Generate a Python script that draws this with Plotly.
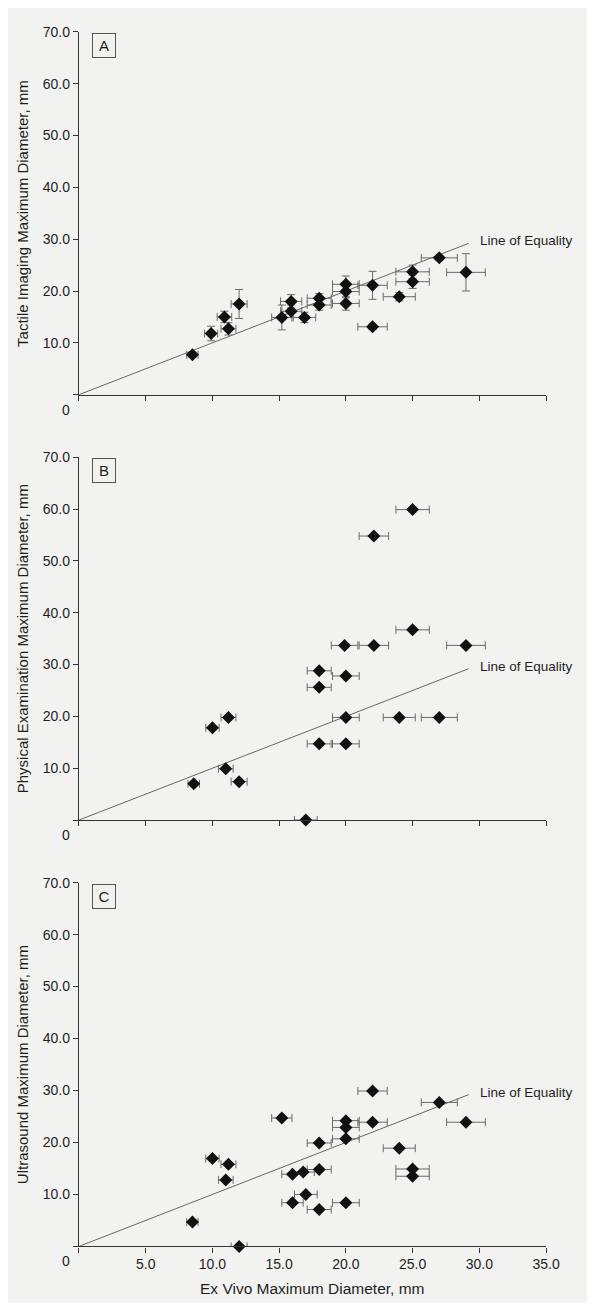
import plotly.graph_objects as go

# ---------------- data ----------------
# Panel A: tactile imaging vs ex vivo
A_x = [8.5, 9.9, 10.9, 11.2, 12.0, 15.2, 15.9, 15.9, 16.9, 18.0, 18.0, 20.0, 20.0, 20.0, 22.0, 22.0, 24.0, 25.0, 25.0, 27.0, 29.0]
A_y = [7.7, 11.8, 15.0, 12.7, 17.5, 14.9, 18.0, 16.1, 14.9, 18.6, 17.3, 21.3, 19.9, 17.6, 21.1, 13.1, 18.9, 23.7, 21.8, 26.4, 23.6]
A_yerr = [0.5, 1.4, 1.1, 1.2, 2.8, 2.4, 1.3, 1.2, 1.0, 0.9, 1.0, 1.6, 1.2, 1.3, 2.7, 0.5, 0.8, 1.3, 1.3, 0.5, 3.6]

# Panel B: physical examination vs ex vivo
B_x = [8.6, 10.0, 11.2, 11.0, 12.0, 17.0, 18.0, 18.0, 18.0, 19.9, 20.0, 20.0, 20.0, 22.1, 22.1, 24.0, 25.0, 25.0, 27.0, 29.0]
B_y = [7.0, 17.8, 19.8, 9.9, 7.4, 0.0, 28.8, 25.6, 14.7, 33.7, 27.8, 19.8, 14.7, 33.7, 54.8, 19.8, 59.9, 36.7, 19.8, 33.7]

# Panel C: ultrasound vs ex vivo
C_x = [8.5, 10.0, 11.2, 11.0, 12.0, 15.2, 16.0, 16.0, 16.8, 17.0, 18.0, 18.0, 18.0, 20.0, 20.0, 20.0, 20.0, 22.0, 22.0, 24.0, 25.0, 25.0, 27.0, 29.0]
C_y = [4.7, 16.9, 15.8, 12.8, 0.0, 24.7, 13.9, 8.4, 14.3, 10.0, 19.9, 14.8, 7.1, 24.2, 22.9, 20.7, 8.4, 29.9, 23.9, 18.9, 14.9, 13.5, 27.7, 23.9]

x_err_pct = 5
equality = [0.0, 29.2]

y_titles = ["Tactile Imaging Maximum Diameter, mm",
            "Physical Examination Maximum Diameter, mm",
            "Ultrasound Maximum Diameter, mm"]
panel_letters = ["A", "B", "C"]
x_title = "Ex Vivo Maximum Diameter, mm"
y_tickvals = [0, 10, 20, 30, 40, 50, 60, 70]
y_ticktext = ["", "10.0", "20.0", "30.0", "40.0", "50.0", "60.0", "70.0"]
x_tickvals = [0, 5, 10, 15, 20, 25, 30, 35]
x_ticktext = ["", "5.0", "10.0", "15.0", "20.0", "25.0", "30.0", "35.0"]

# ---------------- layout ----------------
W, H = 595, 1303
FONT = "Liberation Sans, Arial, Helvetica, sans-serif"
TXT = "#1f1f1f"
AX = "#333333"
ERR = "#6a6a6a"

panels_px = [(16, 381), (444, 809), (872, 1238)]
x_dom = [72.7 / W, 551 / W]

fig = go.Figure()

datasets = [(A_x, A_y, A_yerr), (B_x, B_y, None), (C_x, C_y, None)]
for i, (xs, ys, yerr) in enumerate(datasets):
    xa = "x" if i == 0 else f"x{i+1}"
    ya = "y" if i == 0 else f"y{i+1}"
    fig.add_trace(go.Scatter(
        x=equality, y=equality, mode="lines",
        line=dict(color="#666666", width=1),
        xaxis=xa, yaxis=ya, showlegend=False, hoverinfo="skip"))
    ey = dict(visible=False)
    if yerr is not None:
        ey = dict(type="data", array=yerr, visible=True, color=ERR, thickness=1, width=4)
    fig.add_trace(go.Scatter(
        x=xs, y=ys, mode="markers",
        marker=dict(symbol="diamond", size=10, color="#111111"),
        error_x=dict(type="percent", value=x_err_pct, visible=True, color=ERR, thickness=1, width=4),
        error_y=ey,
        cliponaxis=False,
        xaxis=xa, yaxis=ya, showlegend=False))

annotations = []
for i, (top, bot) in enumerate(panels_px):
    sfx = "" if i == 0 else str(i + 1)
    dom = [1 - bot / H, 1 - top / H]
    fig.layout[f"yaxis{sfx}"] = dict(
        domain=dom, range=[0, 70], anchor=f"x{sfx}",
        tickvals=y_tickvals, ticktext=y_ticktext,
        ticks="outside", ticklen=5, tickwidth=1, tickcolor=AX,
        showline=True, linecolor=AX, linewidth=1.3,
        showgrid=False, zeroline=False,
        tickfont=dict(family=FONT, size=14, color=TXT))
    fig.layout[f"xaxis{sfx}"] = dict(
        domain=x_dom, range=[0, 35], anchor=f"y{sfx}",
        tickvals=x_tickvals, ticktext=x_ticktext,
        showticklabels=(i == 2),
        ticks="outside", ticklen=5, tickwidth=1, tickcolor=AX,
        showline=True, linecolor=AX, linewidth=1.3,
        showgrid=False, zeroline=False,
        tickfont=dict(family=FONT, size=14, color=TXT))
    # y-axis title
    annotations.append(dict(
        text=y_titles[i], textangle=-90, showarrow=False,
        xref="paper", yref="paper", x=15 / W, y=(dom[0] + dom[1]) / 2,
        xanchor="center", yanchor="middle",
        font=dict(family=FONT, size=15, color=TXT)))
    # origin label
    annotations.append(dict(
        text="0", showarrow=False, xref="paper", yref="paper",
        x=59 / W, y=1 - (bot + 15) / H, xanchor="center", yanchor="middle",
        font=dict(family=FONT, size=14, color=TXT)))
    # panel letter
    annotations.append(dict(
        text=panel_letters[i], showarrow=False,
        xref=f"x{sfx}", yref=f"y{sfx}", x=1.85, y=67.4,
        xanchor="center", yanchor="middle",
        width=20, height=21, borderpad=1,
        bordercolor="#555555", borderwidth=1,
        font=dict(family=FONT, size=15, color=TXT)))
    # line label
    annotations.append(dict(
        text="Line of Equality", showarrow=False,
        xref=f"x{sfx}", yref=f"y{sfx}", x=29.9, y=29.7,
        xanchor="left", yanchor="middle",
        font=dict(family=FONT, size=13.5, color=TXT)))

annotations.append(dict(
    text=x_title, showarrow=False, xref="paper", yref="paper",
    x=(x_dom[0] + x_dom[1]) / 2, y=1 - 1280 / H,
    xanchor="center", yanchor="middle",
    font=dict(family=FONT, size=15.5, color=TXT)))

fig.update_layout(
    width=W, height=H,
    margin=dict(l=0, r=0, t=0, b=0),
    paper_bgcolor="#f2f2f0", plot_bgcolor="rgba(0,0,0,0)",
    annotations=annotations,
    font=dict(family=FONT, color=TXT),
)

fig.write_html("out.html")
